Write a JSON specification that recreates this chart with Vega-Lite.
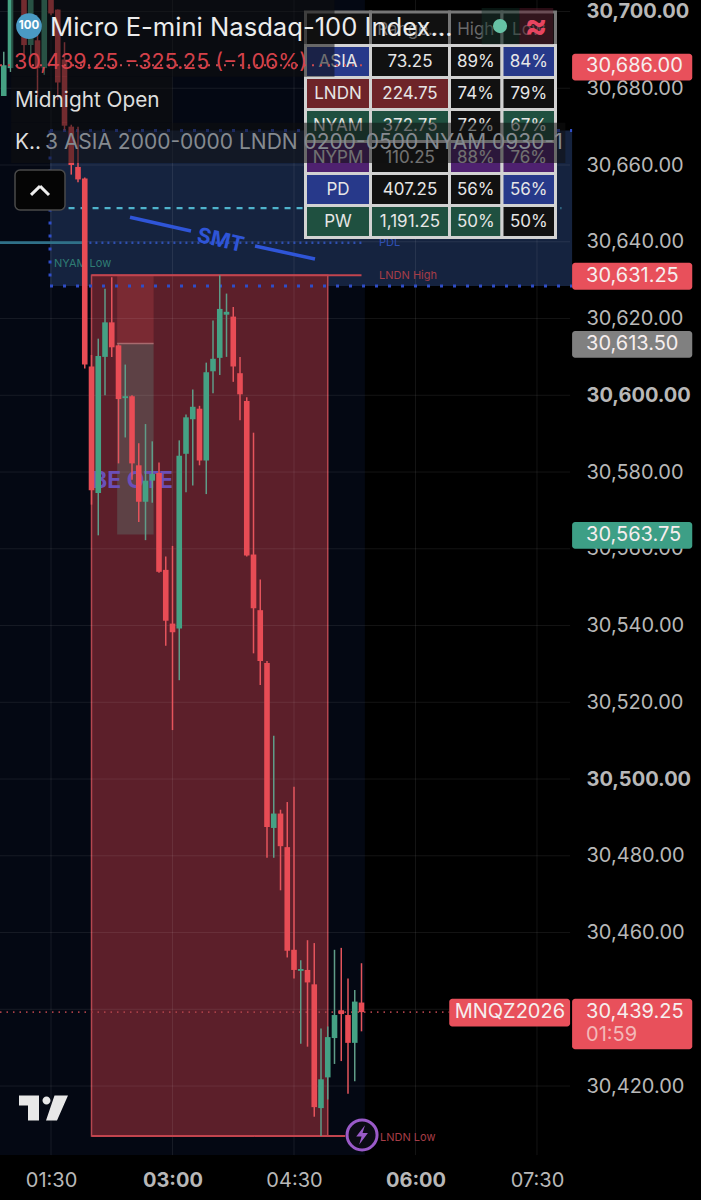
{"$schema":"https://vega.github.io/schema/vega-lite/v6.json","width":701,"height":1200,"padding":0,"autosize":{"type":"none"},"background":"#000000","config":{"view":{"stroke":null},"text":{"font":"Inter"},"axis":{"labelFont":"Inter"}},
"datasets":{
"candles":[
{"time":"2026-01-01T00:55:00","open":30678,"high":30689.5,"low":30678,"close":30686},
{"time":"2026-01-01T01:00:00","open":30685.25,"high":30707,"low":30684.25,"close":30705.5},
{"time":"2026-01-01T01:10:00","open":30705.5,"high":30707,"low":30688.75,"close":30691.25},
{"time":"2026-01-01T01:15:00","open":30691.25,"high":30707,"low":30688.75,"close":30705.5},
{"time":"2026-01-01T01:20:00","open":30692.5,"high":30694,"low":30677.75,"close":30685.25},
{"time":"2026-01-01T01:25:00","open":30685.25,"high":30707,"low":30683.5,"close":30706},
{"time":"2026-01-01T01:30:00","open":30706,"high":30707,"low":30699,"close":30699.5},
{"time":"2026-01-01T01:35:00","open":30700.5,"high":30700.5,"low":30677,"close":30681.5},
{"time":"2026-01-01T01:40:00","open":30687.5,"high":30692,"low":30669,"close":30670.25},
{"time":"2026-01-01T01:45:00","open":30670,"high":30670.5,"low":30657.5,"close":30660},
{"time":"2026-01-01T01:50:00","open":30659.5,"high":30670,"low":30655.5,"close":30656.25},
{"time":"2026-01-01T01:55:00","open":30656.5,"high":30656.75,"low":30607,"close":30608},
{"time":"2026-01-01T02:00:00","open":30607.5,"high":30610.5,"low":30571.5,"close":30575.25},
{"time":"2026-01-01T02:05:00","open":30574.5,"high":30614.75,"low":30563.5,"close":30610.25},
{"time":"2026-01-01T02:10:00","open":30610,"high":30627.75,"low":30600,"close":30619},
{"time":"2026-01-01T02:15:00","open":30619,"high":30630.75,"low":30610,"close":30612.5},
{"time":"2026-01-01T02:20:00","open":30613,"high":30613.25,"low":30582.25,"close":30599},
{"time":"2026-01-01T02:25:00","open":30599.25,"high":30608,"low":30589,"close":30599.75},
{"time":"2026-01-01T02:30:00","open":30599.75,"high":30600,"low":30578,"close":30582.25},
{"time":"2026-01-01T02:35:00","open":30581.75,"high":30587.5,"low":30567,"close":30572.25},
{"time":"2026-01-01T02:40:00","open":30572.25,"high":30592.5,"low":30562.25,"close":30577.75},
{"time":"2026-01-01T02:45:00","open":30577.75,"high":30588,"low":30572,"close":30579.5},
{"time":"2026-01-01T02:50:00","open":30579.75,"high":30582.5,"low":30553.75,"close":30554},
{"time":"2026-01-01T02:55:00","open":30554.5,"high":30558,"low":30534.75,"close":30541.25},
{"time":"2026-01-01T03:00:00","open":30540.5,"high":30560.75,"low":30512.75,"close":30538.25},
{"time":"2026-01-01T03:05:00","open":30539.25,"high":30588.25,"low":30525.75,"close":30584.25},
{"time":"2026-01-01T03:10:00","open":30584.75,"high":30595,"low":30574.75,"close":30594.25},
{"time":"2026-01-01T03:15:00","open":30593.75,"high":30601.5,"low":30576.5,"close":30597},
{"time":"2026-01-01T03:20:00","open":30596.5,"high":30597.25,"low":30581.75,"close":30583},
{"time":"2026-01-01T03:25:00","open":30583,"high":30608.5,"low":30574.25,"close":30606},
{"time":"2026-01-01T03:30:00","open":30606.25,"high":30619.5,"low":30600.5,"close":30609.5},
{"time":"2026-01-01T03:35:00","open":30609.75,"high":30631.25,"low":30605.25,"close":30622.5},
{"time":"2026-01-01T03:40:00","open":30621,"high":30626.5,"low":30610,"close":30621.75},
{"time":"2026-01-01T03:45:00","open":30620.5,"high":30623,"low":30603.5,"close":30607.5},
{"time":"2026-01-01T03:50:00","open":30605.75,"high":30610,"low":30593.5,"close":30600.25},
{"time":"2026-01-01T03:55:00","open":30598.5,"high":30599.5,"low":30558,"close":30558.25},
{"time":"2026-01-01T04:00:00","open":30558.5,"high":30590.25,"low":30532.75,"close":30544.5},
{"time":"2026-01-01T04:05:00","open":30544,"high":30552,"low":30524.5,"close":30530.75},
{"time":"2026-01-01T04:10:00","open":30530.25,"high":30530.75,"low":30479.5,"close":30487.5},
{"time":"2026-01-01T04:15:00","open":30487.25,"high":30511.25,"low":30479.5,"close":30491},
{"time":"2026-01-01T04:20:00","open":30491,"high":30492,"low":30471,"close":30482.5},
{"time":"2026-01-01T04:25:00","open":30482.25,"high":30494,"low":30453.5,"close":30455.25},
{"time":"2026-01-01T04:30:00","open":30455.5,"high":30498,"low":30448,"close":30450.25},
{"time":"2026-01-01T04:35:00","open":30450,"high":30452.75,"low":30431,"close":30450.5},
{"time":"2026-01-01T04:40:00","open":30450.25,"high":30458,"low":30430.25,"close":30447},
{"time":"2026-01-01T04:45:00","open":30446.5,"high":30457.25,"low":30412,"close":30414.5},
{"time":"2026-01-01T04:50:00","open":30414.25,"high":30435,"low":30407,"close":30421.75},
{"time":"2026-01-01T04:55:00","open":30422.25,"high":30435.5,"low":30416.5,"close":30432.75},
{"time":"2026-01-01T05:00:00","open":30432.5,"high":30455.5,"low":30425.75,"close":30438.5},
{"time":"2026-01-01T05:05:00","open":30439.75,"high":30456,"low":30426.5,"close":30438.75},
{"time":"2026-01-01T05:10:00","open":30438.5,"high":30448,"low":30418,"close":30431.25},
{"time":"2026-01-01T05:15:00","open":30431.25,"high":30445,"low":30421.25,"close":30442},
{"time":"2026-01-01T05:20:00","open":30441.75,"high":30452,"low":30434.25,"close":30439.25}],
"zones":[
{"kind":"navy","start":"2026-01-01T00:52:13","end":"2026-01-01T05:22:30","top":30703,"bottom":30402},
{"kind":"range","start":"2026-01-01T01:29:16","end":"2026-01-01T07:56:00","top":30669,"bottom":30628.5},
{"kind":"lndn","start":"2026-01-01T02:00:00","end":"2026-01-01T04:55:00","top":30631.25,"bottom":30407},
{"kind":"block","start":"2026-01-01T02:19:00","end":"2026-01-01T02:46:00","top":30631.25,"bottom":30613.5},
{"kind":"ote","start":"2026-01-01T02:19:00","end":"2026-01-01T02:46:00","top":30613.5,"bottom":30563.75}],
"prices":[{"price":30700,"start":"2026-01-01T00:52:13","end":"2026-01-01T07:54:30"},{"price":30680,"start":"2026-01-01T00:52:13","end":"2026-01-01T07:54:30"},{"price":30660,"start":"2026-01-01T00:52:13","end":"2026-01-01T07:54:30"},{"price":30640,"start":"2026-01-01T00:52:13","end":"2026-01-01T07:54:30"},{"price":30620,"start":"2026-01-01T00:52:13","end":"2026-01-01T07:54:30"},{"price":30600,"start":"2026-01-01T00:52:13","end":"2026-01-01T07:54:30"},{"price":30580,"start":"2026-01-01T00:52:13","end":"2026-01-01T07:54:30"},{"price":30560,"start":"2026-01-01T00:52:13","end":"2026-01-01T07:54:30"},{"price":30540,"start":"2026-01-01T00:52:13","end":"2026-01-01T07:54:30"},{"price":30520,"start":"2026-01-01T00:52:13","end":"2026-01-01T07:54:30"},{"price":30500,"start":"2026-01-01T00:52:13","end":"2026-01-01T07:54:30"},{"price":30480,"start":"2026-01-01T00:52:13","end":"2026-01-01T07:54:30"},{"price":30460,"start":"2026-01-01T00:52:13","end":"2026-01-01T07:54:30"},{"price":30440,"start":"2026-01-01T00:52:13","end":"2026-01-01T07:54:30"},{"price":30420,"start":"2026-01-01T00:52:13","end":"2026-01-01T07:54:30"}],
"levels":[
{"kind":"rangeEdge","start":"2026-01-01T01:29:16","end":"2026-01-01T07:56:00","price":30669},
{"kind":"rangeEdge","start":"2026-01-01T01:29:16","end":"2026-01-01T07:56:00","price":30628.5},
{"kind":"pdlSolid","start":"2026-01-01T00:52:13","end":"2026-01-01T01:54:00","price":30639.75},
{"kind":"pdlDots","start":"2026-01-01T01:54:00","end":"2026-01-01T05:20:00","price":30639.75},
{"kind":"midnight","start":"2026-01-01T01:43:00","end":"2026-01-01T07:48:00","price":30648.75},
{"kind":"lndnEdge","start":"2026-01-01T02:00:00","end":"2026-01-01T05:20:00","price":30631.25},
{"kind":"lndnEdge","start":"2026-01-01T02:00:00","end":"2026-01-01T05:08:00","price":30407},
{"kind":"last","start":"2026-01-01T00:52:13","end":"2026-01-01T06:25:00","price":30439.25},
{"kind":"oteTop","start":"2026-01-01T02:19:00","end":"2026-01-01T02:46:00","price":30613.5}],
"labels":[
{"text":"NYAM Low","time":"2026-01-01T01:32:12","price":30634.25,"kind":"nyam"},
{"text":"PDL","time":"2026-01-01T05:33:00","price":30639.75,"kind":"pdl"},
{"text":"LNDN High","time":"2026-01-01T05:33:00","price":30631,"kind":"lndn"},
{"text":"LNDN Low","time":"2026-01-01T05:33:40","price":30406.5,"kind":"lndn"}],
"smtLines":[
{"start":"2026-01-01T02:28:31","end":"2026-01-01T03:13:42","from":30646.4,"to":30642.8},
{"start":"2026-01-01T04:01:07","end":"2026-01-01T04:45:33","from":30638.9,"to":30635.5}],
"tags":[
{"kind":"tagRed","start":"2026-01-01T07:56:00","end":"2026-01-01T09:25:00","top":30689,"bottom":30682},
{"kind":"tagRed","start":"2026-01-01T07:56:00","end":"2026-01-01T09:25:00","top":30634.5,"bottom":30627.5},
{"kind":"tagGrey","start":"2026-01-01T07:56:00","end":"2026-01-01T09:25:00","top":30616.75,"bottom":30609.75},
{"kind":"tagGreen","start":"2026-01-01T07:56:00","end":"2026-01-01T09:25:00","top":30567,"bottom":30560},
{"kind":"tagRed","start":"2026-01-01T07:56:00","end":"2026-01-01T09:25:00","top":30442.75,"bottom":30429.6},
{"kind":"tagRed","start":"2026-01-01T06:25:00","end":"2026-01-01T07:54:30","top":30442.75,"bottom":30435.5}],
"tagText":[
{"label":"30,686.00","time":"2026-01-01T08:06:20","price":30685.75},
{"label":"30,631.25","time":"2026-01-01T08:06:20","price":30631},
{"label":"30,613.50","time":"2026-01-01T08:06:20","price":30613.25},
{"label":"30,563.75","time":"2026-01-01T08:06:20","price":30563.5},
{"label":"30,439.25","time":"2026-01-01T08:06:20","price":30439.25},
{"label":"01:59","time":"2026-01-01T08:06:20","price":30433.25},
{"label":"MNQZ2026","time":"2026-01-01T06:29:00","price":30439.25}],
"cells":[
{"section":"Head","text":"","shade":"ink","r0":0,"r1":1,"rm":0.55,"c0":0,"c1":1,"cm":0.5},
{"section":"Head","text":"Range...","shade":"ink","r0":0,"r1":1,"rm":0.55,"c0":1,"c1":2,"cm":1.5},
{"section":"Head","text":"High","shade":"ink","r0":0,"r1":1,"rm":0.55,"c0":2,"c1":3,"cm":2.5},
{"section":"Head","text":"Low","shade":"ink","r0":0,"r1":1,"rm":0.55,"c0":3,"c1":4,"cm":3.5},
{"section":"ASIA","text":"ASIA","shade":"blue","r0":1,"r1":2,"rm":1.5,"c0":0,"c1":1,"cm":0.5},
{"section":"ASIA","text":"73.25","shade":"ink","r0":1,"r1":2,"rm":1.5,"c0":1,"c1":2,"cm":1.5},
{"section":"ASIA","text":"89%","shade":"ink","r0":1,"r1":2,"rm":1.5,"c0":2,"c1":3,"cm":2.5},
{"section":"ASIA","text":"84%","shade":"blue","r0":1,"r1":2,"rm":1.5,"c0":3,"c1":4,"cm":3.5},
{"section":"LNDN","text":"LNDN","shade":"red","r0":2,"r1":3,"rm":2.5,"c0":0,"c1":1,"cm":0.5},
{"section":"LNDN","text":"224.75","shade":"red","r0":2,"r1":3,"rm":2.5,"c0":1,"c1":2,"cm":1.5},
{"section":"LNDN","text":"74%","shade":"ink","r0":2,"r1":3,"rm":2.5,"c0":2,"c1":3,"cm":2.5},
{"section":"LNDN","text":"79%","shade":"ink","r0":2,"r1":3,"rm":2.5,"c0":3,"c1":4,"cm":3.5},
{"section":"NYAM","text":"NYAM","shade":"green","r0":3,"r1":4,"rm":3.5,"c0":0,"c1":1,"cm":0.5},
{"section":"NYAM","text":"372.75","shade":"green","r0":3,"r1":4,"rm":3.5,"c0":1,"c1":2,"cm":1.5},
{"section":"NYAM","text":"72%","shade":"ink","r0":3,"r1":4,"rm":3.5,"c0":2,"c1":3,"cm":2.5},
{"section":"NYAM","text":"67%","shade":"green","r0":3,"r1":4,"rm":3.5,"c0":3,"c1":4,"cm":3.5},
{"section":"NYPM","text":"NYPM","shade":"purple","r0":4,"r1":5,"rm":4.5,"c0":0,"c1":1,"cm":0.5},
{"section":"NYPM","text":"110.25","shade":"ink","r0":4,"r1":5,"rm":4.5,"c0":1,"c1":2,"cm":1.5},
{"section":"NYPM","text":"88%","shade":"purple","r0":4,"r1":5,"rm":4.5,"c0":2,"c1":3,"cm":2.5},
{"section":"NYPM","text":"76%","shade":"purple","r0":4,"r1":5,"rm":4.5,"c0":3,"c1":4,"cm":3.5},
{"section":"PD","text":"PD","shade":"blue","r0":5,"r1":6,"rm":5.5,"c0":0,"c1":1,"cm":0.5},
{"section":"PD","text":"407.25","shade":"ink","r0":5,"r1":6,"rm":5.5,"c0":1,"c1":2,"cm":1.5},
{"section":"PD","text":"56%","shade":"ink","r0":5,"r1":6,"rm":5.5,"c0":2,"c1":3,"cm":2.5},
{"section":"PD","text":"56%","shade":"blue","r0":5,"r1":6,"rm":5.5,"c0":3,"c1":4,"cm":3.5},
{"section":"PW","text":"PW","shade":"green","r0":6,"r1":7,"rm":6.5,"c0":0,"c1":1,"cm":0.5},
{"section":"PW","text":"1,191.25","shade":"green","r0":6,"r1":7,"rm":6.5,"c0":1,"c1":2,"cm":1.5},
{"section":"PW","text":"50%","shade":"green","r0":6,"r1":7,"rm":6.5,"c0":2,"c1":3,"cm":2.5},
{"section":"PW","text":"50%","shade":"ink","r0":6,"r1":7,"rm":6.5,"c0":3,"c1":4,"cm":3.5}],
"overlays":[
{"start":"2026-01-01T01:00:30","end":"2026-01-01T05:00:00","top":30703,"bottom":30683},
{"start":"2026-01-01T01:00:30","end":"2026-01-01T03:00:00","top":30683,"bottom":30671},
{"start":"2026-01-01T01:00:30","end":"2026-01-01T07:51:00","top":30671,"bottom":30660.5}],
"pills":[
{"kind":"upTint","start":"2026-01-01T06:49:00","end":"2026-01-01T07:17:00","top":30700.9,"bottom":30691.5},
{"kind":"downTint","start":"2026-01-01T07:17:00","end":"2026-01-01T07:42:00","top":30700.9,"bottom":30691.5}]
},
"layer":[
{"layer":[
{"data":{"name":"zones","format":{"parse":{"start":"date","end":"date"}}},"mark":{"type":"rect","strokeWidth":1.5},
 "encoding":{"x":{"field":"start","type":"temporal","title":null,"scale":{"domain":["2026-01-01T00:52:13","2026-01-01T09:31:29"],"range":[0,701],"padding":0},
   "axis":{"orient":"bottom","offset":-30,"values":["2026-01-01T01:30:00","2026-01-01T03:00:00","2026-01-01T04:30:00","2026-01-01T06:00:00","2026-01-01T07:30:00"],"format":"%H:%M","grid":false,"domain":false,"ticks":false,"labelPadding":0,"labelFontSize":20,"labelColor":"#b8b8b8","labelBaseline":"top","labelFontWeight":{"condition":{"test":"hours(datum.value)%3==0","value":"bold"},"value":"normal"},"labelFlush":false}},
  "x2":{"field":"end"},
  "y":{"field":"top","type":"quantitative","title":null,"scale":{"domain":[30390.3,30703],"range":[1200,0],"nice":false,"zero":false},
   "axis":{"orient":"right","offset":-115,"values":[30420,30460,30480,30500,30520,30540,30560,30580,30600,30620,30640,30660,30680,30700],"format":",.2f","grid":false,"domain":false,"ticks":false,"labelPadding":0,"labelFontSize":20,"labelColor":"#b8b8b8","labelAlign":"left","labelFontWeight":{"condition":{"test":"datum.value%100==0","value":"bold"},"value":"normal"}}},
  "y2":{"field":"bottom"},
  "fill":{"field":"kind","type":"nominal","legend":null,"scale":{"domain":["navy","range","lndn","block","ote","tagRed","tagGrey","tagGreen"],"range":["#040813","#15233f","#5c1f2a","#7a2a33","#5d4145","#e8505b","#808080","#3d9f86"]}},
  "stroke":{"condition":{"test":"datum.kind==='lndn'","value":"#b5464f"},"value":"transparent"}}},
{"data":{"name":"prices","format":{"parse":{"start":"date","end":"date"}}},"mark":{"type":"rule","color":"#ffffff","opacity":0.08,"strokeWidth":1},
 "encoding":{"y":{"field":"price","type":"quantitative"},"x":{"field":"start","type":"temporal"},"x2":{"field":"end"}}},
{"data":{"values":[{"time":"2026-01-01T01:30:00"},{"time":"2026-01-01T03:00:00"},{"time":"2026-01-01T04:30:00"},{"time":"2026-01-01T06:00:00"},{"time":"2026-01-01T07:30:00"}]},"mark":{"type":"rule","color":"#ffffff","opacity":0.08,"strokeWidth":1},
 "encoding":{"x":{"field":"time","type":"temporal"},"y":{"datum":30703,"type":"quantitative"},"y2":{"datum":30402}}},
{"data":{"name":"levels","format":{"parse":{"start":"date","end":"date"}}},"mark":{"type":"rule"},
 "encoding":{"x":{"field":"start","type":"temporal"},"x2":{"field":"end"},"y":{"field":"price","type":"quantitative"},
  "stroke":{"field":"kind","type":"nominal","legend":null,"scale":{"domain":["rangeEdge","pdlSolid","pdlDots","midnight","lndnEdge","last","oteTop"],"range":["#2f4dc8","#2f7088","#2e4fb0","#4fb3cc","#c2444e","#a83f47","#a86a6e"]}},
  "strokeDash":{"field":"kind","type":"nominal","legend":null,"scale":{"domain":["rangeEdge","pdlSolid","pdlDots","midnight","lndnEdge","last","oteTop"],"range":[[3,10],[1,0],[2,4],[6,6],[1,0],[1.5,5],[1,0]]}},
  "strokeWidth":{"field":"kind","type":"nominal","legend":null,"scale":{"domain":["rangeEdge","pdlSolid","pdlDots","midnight","lndnEdge","last","oteTop"],"range":[3,1.5,1.5,1.5,2,1.5,1.5]}}}},
{"data":{"values":[{"time":"2026-01-01T01:29:16","top":30669,"bottom":30628.5}]},"mark":{"type":"rule","color":"#2f4dc8","strokeWidth":3,"strokeDash":[3,10]},
 "encoding":{"x":{"field":"time","type":"temporal"},"y":{"field":"top","type":"quantitative"},"y2":{"field":"bottom"}}},
{"data":{"name":"labels"},"mark":{"type":"text","align":"left","baseline":"middle","fontSize":11},
 "encoding":{"x":{"field":"time","type":"temporal"},"y":{"field":"price","type":"quantitative"},"text":{"field":"text"},
  "color":{"field":"kind","type":"nominal","legend":null,"scale":{"domain":["nyam","pdl","lndn"],"range":["#2f7d74","#2f4fb5","#a63d47"]}}}},
{"data":{"values":[{"text":"BE OTE","time":"2026-01-01T02:00:24","price":30577.7}]},"mark":{"type":"text","align":"left","baseline":"middle","fontSize":23,"fontWeight":"bold","color":"#6b4fb8"},
 "encoding":{"x":{"field":"time","type":"temporal"},"y":{"field":"price","type":"quantitative"},"text":{"field":"text"}}},
{"data":{"name":"smtLines","format":{"parse":{"start":"date","end":"date"}}},"mark":{"type":"rule","color":"#2f55d8","strokeWidth":3.5},
 "encoding":{"x":{"field":"start","type":"temporal"},"x2":{"field":"end"},"y":{"field":"from","type":"quantitative"},"y2":{"field":"to"}}},
{"data":{"values":[{"text":"SMT","time":"2026-01-01T03:35:30","price":30640.2}]},"mark":{"type":"text","align":"center","baseline":"middle","fontSize":21,"fontWeight":"bold","angle":13,"color":"#2f55d8"},
 "encoding":{"x":{"field":"time","type":"temporal"},"y":{"field":"price","type":"quantitative"},"text":{"field":"text"}}},
{"data":{"name":"candles"},"mark":{"type":"rule","strokeWidth":1.5},
 "encoding":{"x":{"field":"time","type":"temporal"},"y":{"field":"low","type":"quantitative"},"y2":{"field":"high"},
  "stroke":{"condition":{"test":"datum.close>datum.open","value":"#5f9c88"},"value":"#e5545c"}}},
{"data":{"name":"candles"},"mark":{"type":"bar","size":5.6,"orient":"vertical"},
 "encoding":{"x":{"field":"time","type":"temporal"},"y":{"field":"open","type":"quantitative"},"y2":{"field":"close"},
  "fill":{"condition":{"test":"datum.close>datum.open","value":"#45a184"},"value":"#e84c55"}}},
{"data":{"values":[{"time":"2026-01-01T05:20:25","price":30407.25}]},"mark":{"type":"point","filled":false,"shape":"circle","size":900,"stroke":"#9a5ac8","strokeWidth":3,"fill":"#0b0b14","fillOpacity":1,"opacity":1},
 "encoding":{"x":{"field":"time","type":"temporal"},"y":{"field":"price","type":"quantitative"}}},
{"data":{"values":[{"time":"2026-01-01T05:20:25","price":30407.25}]},"mark":{"type":"point","filled":true,"shape":"M0.3,-1L-0.6,0.15L-0.05,0.15L-0.3,1L0.6,-0.2L0.05,-0.2Z","size":380,"color":"#9a5ac8","opacity":1},
 "encoding":{"x":{"field":"time","type":"temporal"},"y":{"field":"price","type":"quantitative"}}},
{"data":{"values":[{"time":"2026-01-01T01:24:04","price":30414.25}]},"mark":{"type":"point","filled":true,"shape":"M-0.96,-0.5L-0.16,-0.5L-0.16,0.5L-0.6,0.5L-0.6,-0.1L-0.96,-0.1ZM-0.02,-0.3a0.16,0.16 0 1,0 0.32,0a0.16,0.16 0 1,0 -0.32,0ZM0.46,-0.5L1,-0.5L0.56,0.5L0.12,0.5Z","size":2500,"color":"#e8e8e8","opacity":1},
 "encoding":{"x":{"field":"time","type":"temporal"},"y":{"field":"price","type":"quantitative"}}},
{"data":{"name":"tags","format":{"parse":{"start":"date","end":"date"}}},"mark":{"type":"rect","cornerRadius":3},
 "encoding":{"x":{"field":"start","type":"temporal"},"x2":{"field":"end"},"y":{"field":"top","type":"quantitative"},"y2":{"field":"bottom"},
  "fill":{"field":"kind","type":"nominal","legend":null,"scale":{"domain":["navy","range","lndn","block","ote","tagRed","tagGrey","tagGreen"],"range":["#040813","#15233f","#5c1f2a","#7a2a33","#5d4145","#e8505b","#808080","#3d9f86"]}}}},
{"data":{"name":"tagText"},"mark":{"type":"text","align":"left","baseline":"middle","fontSize":20},
 "encoding":{"x":{"field":"time","type":"temporal"},"y":{"field":"price","type":"quantitative"},"text":{"field":"label"},
  "fill":{"condition":{"test":"datum.label==='01:59'","value":"#f3b8b8"},"value":"#f6eeee"}}}
]},
{"layer":[
{"data":{"name":"cells"},"mark":{"type":"rect","strokeWidth":3},
 "encoding":{"x":{"field":"c0","type":"quantitative","axis":null,"scale":{"domain":[0,1,2,3,4],"range":[305.5,370.5,449.5,502,555.5],"nice":false,"zero":false,"padding":0}},"x2":{"field":"c1"},
  "y":{"field":"r0","type":"quantitative","axis":null,"scale":{"domain":[0,1,7],"range":[12,45.5,237.5],"nice":false,"zero":false}},"y2":{"field":"r1"},
  "fill":{"field":"shade","type":"nominal","legend":null,"scale":{"domain":["ink","blue","red","green","purple"],"range":["#111111","#27398a","#6e2429","#1f5040","#4f2170"]}},
  "stroke":{"condition":{"test":"datum.r0==0","value":"#777777"},"value":"#d2d2d2"}}},
{"data":{"name":"cells"},"mark":{"type":"text","align":"center","baseline":"middle","fontSize":17},
 "encoding":{"x":{"field":"cm","type":"quantitative","axis":null},"y":{"field":"rm","type":"quantitative","axis":null},"text":{"field":"text"},
  "fill":{"condition":{"test":"datum.r0==0","value":"#6a6a6a"},"value":"#e6e6e6"}}}
]},
{"layer":[
{"data":{"name":"overlays","format":{"parse":{"start":"date","end":"date"}}},"mark":{"type":"rect","fill":"#111111","opacity":0.55},
 "encoding":{"x":{"field":"start","type":"temporal","axis":null,"scale":{"domain":["2026-01-01T00:52:13","2026-01-01T09:31:29"],"range":[0,701]}},"x2":{"field":"end"},
  "y":{"field":"top","type":"quantitative","axis":null,"scale":{"domain":[30390.3,30703],"range":[1200,0],"nice":false,"zero":false}},"y2":{"field":"bottom"}}},
{"data":{"name":"pills","format":{"parse":{"start":"date","end":"date"}}},"mark":{"type":"rect","opacity":0.45},
 "encoding":{"x":{"field":"start","type":"temporal"},"x2":{"field":"end"},"y":{"field":"top","type":"quantitative"},"y2":{"field":"bottom"},
  "fill":{"condition":{"test":"datum.kind==='upTint'","value":"#123029"},"value":"#5a1a2c"}}},
{"data":{"values":[{"start":"2026-01-01T00:52:13","end":"2026-01-01T05:22:30","price":30686}],"format":{"parse":{"start":"date","end":"date"}}},"mark":{"type":"rule","stroke":"#c94a50","strokeWidth":2,"strokeDash":[2,6]},
 "encoding":{"x":{"field":"start","type":"temporal"},"x2":{"field":"end"},"y":{"field":"price","type":"quantitative"}}},
{"data":{"values":[{"time":"2026-01-01T01:13:42","price":30696.2}]},"mark":{"type":"point","filled":true,"shape":"circle","size":660,"color":"#4a9ac4","opacity":1},
 "encoding":{"x":{"field":"time","type":"temporal"},"y":{"field":"price","type":"quantitative"}}},
{"data":{"values":[{"text":"100","time":"2026-01-01T01:13:42","price":30696.2}]},"mark":{"type":"text","align":"center","baseline":"middle","fontSize":11.5,"fontWeight":"bold","color":"#ffffff"},
 "encoding":{"x":{"field":"time","type":"temporal"},"y":{"field":"price","type":"quantitative"},"text":{"field":"text"}}},
{"data":{"values":[{"text":"Micro E-mini Nasdaq-100 Index...","time":"2026-01-01T01:29:16","price":30695.75}]},"mark":{"type":"text","align":"left","baseline":"middle","fontSize":25.6,"fill":"#ececec"},
 "encoding":{"x":{"field":"time","type":"temporal"},"y":{"field":"price","type":"quantitative"},"text":{"field":"text"}}},
{"data":{"values":[{"text":"30,439.25 −325.25 (−1.06%)","time":"2026-01-01T01:02:36","price":30686.5}]},"mark":{"type":"text","align":"left","baseline":"middle","fontSize":21.4,"fill":"#d4414a"},
 "encoding":{"x":{"field":"time","type":"temporal"},"y":{"field":"price","type":"quantitative"},"text":{"field":"text"}}},
{"data":{"values":[{"text":"Midnight Open","time":"2026-01-01T01:03:20","price":30676.75},{"text":"K..","time":"2026-01-01T01:03:20","price":30665.75}]},"mark":{"type":"text","align":"left","baseline":"middle","fontSize":20.8,"fill":"#dedede"},
 "encoding":{"x":{"field":"time","type":"temporal"},"y":{"field":"price","type":"quantitative"},"text":{"field":"text"}}},
{"data":{"values":[{"text":"3 ASIA 2000-0000 LNDN 0200-0500 NYAM 0930-1","time":"2026-01-01T01:25:33","price":30665.75}]},"mark":{"type":"text","align":"left","baseline":"middle","fontSize":21,"fill":"#858a90"},
 "encoding":{"x":{"field":"time","type":"temporal"},"y":{"field":"price","type":"quantitative"},"text":{"field":"text"}}},
{"data":{"values":[{"start":"2026-01-01T01:03:20","end":"2026-01-01T01:40:22","top":30658.7,"bottom":30648.3}],"format":{"parse":{"start":"date","end":"date"}}},"mark":{"type":"rect","fill":"#050505","stroke":"#4a4a4a","strokeWidth":1.5,"cornerRadius":5},
 "encoding":{"x":{"field":"start","type":"temporal"},"x2":{"field":"end"},"y":{"field":"top","type":"quantitative"},"y2":{"field":"bottom"}}},
{"data":{"values":[{"start":"2026-01-01T01:15:11","end":"2026-01-01T01:21:53","from":30652.2,"to":30654.5},{"start":"2026-01-01T01:21:53","end":"2026-01-01T01:28:31","from":30654.5,"to":30652.2}],"format":{"parse":{"start":"date","end":"date"}}},"mark":{"type":"rule","color":"#eeeeee","strokeWidth":3},
 "encoding":{"x":{"field":"start","type":"temporal"},"x2":{"field":"end"},"y":{"field":"from","type":"quantitative"},"y2":{"field":"to"}}},
{"data":{"values":[{"time":"2026-01-01T07:02:37","price":30696.2}]},"mark":{"type":"point","filled":true,"shape":"circle","size":200,"color":"#66c2a5","opacity":1},
 "encoding":{"x":{"field":"time","type":"temporal"},"y":{"field":"price","type":"quantitative"}}},
{"data":{"values":[{"text":"≈","time":"2026-01-01T07:29:15","price":30696}]},"mark":{"type":"text","align":"center","baseline":"middle","fontSize":34,"fontWeight":"bold","color":"#e64560"},
 "encoding":{"x":{"field":"time","type":"temporal"},"y":{"field":"price","type":"quantitative"},"text":{"field":"text"}}}
]}
],
"resolve":{"scale":{"x":"independent","y":"independent","fill":"independent"}}
}
